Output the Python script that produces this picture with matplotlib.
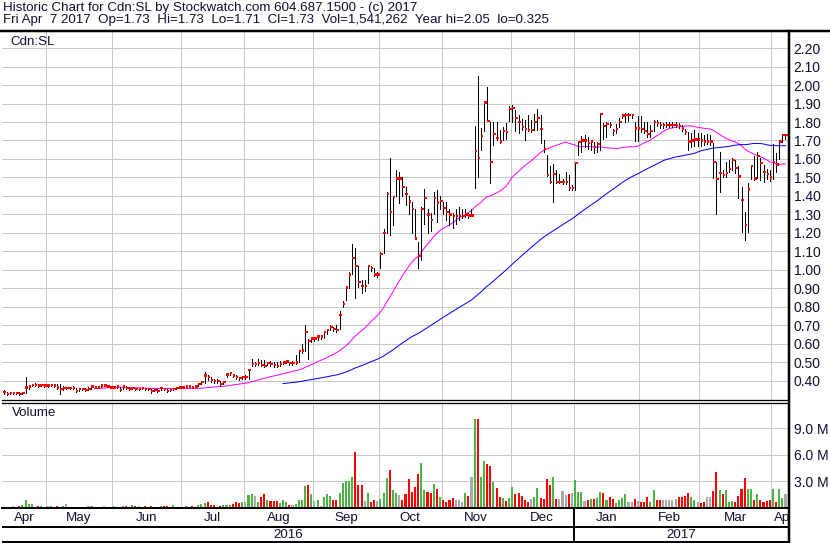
import numpy as np
import pandas as pd
import matplotlib
matplotlib.use('Agg')
import matplotlib.pyplot as plt
from matplotlib.lines import Line2D

plt.rcParams['font.family'] = ['Liberation Sans', 'DejaVu Sans']

# trading days, Apr 12 2016 .. Apr 7 2017 (TSX-V holidays removed)
holidays = ['2016-05-23', '2016-07-01', '2016-08-01', '2016-09-05', '2016-10-10',
            '2016-12-26', '2016-12-27', '2017-01-02', '2017-02-20']
dates = pd.bdate_range('2016-04-12', '2017-04-07', freq='C', holidays=holidays)

high = [
    # Apr 2016
    0.35, 0.34, 0.34, 0.34, 0.34, 0.34, 0.34, 0.42, 0.38, 0.385, 0.39, 0.385, 0.385, 0.385,
    # May
    0.385, 0.385, 0.385, 0.385, 0.385, 0.37, 0.365, 0.365, 0.37, 0.36, 0.36, 0.36, 0.36, 0.365,
    0.38, 0.375, 0.37, 0.38, 0.38, 0.38, 0.37,
    # Jun
    0.37, 0.375, 0.365, 0.375, 0.37, 0.365, 0.365, 0.36, 0.36, 0.365, 0.36, 0.36, 0.355, 0.355,
    0.355, 0.365, 0.36, 0.355, 0.355, 0.36, 0.365, 0.37,
    # Jul
    0.37, 0.375, 0.375, 0.37, 0.375, 0.39, 0.40, 0.45, 0.43, 0.42, 0.41, 0.41, 0.40, 0.40,
    0.44, 0.45, 0.44, 0.43, 0.42, 0.425,
    # Aug
    0.43, 0.465, 0.52, 0.50, 0.52, 0.515, 0.515, 0.50, 0.51, 0.50, 0.505, 0.51, 0.51, 0.51,
    0.505, 0.51, 0.54, 0.565, 0.60, 0.70, 0.625, 0.635,
    # Sep
    0.64, 0.645, 0.65, 0.67, 0.68, 0.70, 0.69, 0.705, 0.78, 0.83, 0.91, 0.99, 1.14, 1.12,
    1.02, 0.945, 0.945, 1.02, 1.02, 1.01, 0.99,
    # Oct
    1.095, 1.22, 1.42, 1.605, 1.40, 1.54, 1.53, 1.50, 1.45, 1.40, 1.37, 1.33, 1.15, 1.34,
    1.44, 1.33, 1.31, 1.42, 1.43, 1.40,
    # Nov
    1.37, 1.37, 1.33, 1.31, 1.33, 1.34, 1.33, 1.33, 1.31, 1.33, 1.78, 2.05, 1.765, 1.905,
    1.99, 1.80, 1.80, 1.80, 1.755, 1.775, 1.795, 1.885,
    # Dec
    1.89, 1.865, 1.84, 1.815, 1.81, 1.84, 1.81, 1.845, 1.87, 1.84, 1.70, 1.62, 1.56, 1.575,
    1.54, 1.52, 1.49, 1.53, 1.515, 1.46,
    # Jan 2017
    1.585, 1.695, 1.725, 1.73, 1.72, 1.705, 1.69, 1.69, 1.845, 1.795, 1.80, 1.80, 1.76, 1.79,
    1.82, 1.845, 1.85, 1.85, 1.845, 1.80, 1.83,
    # Feb
    1.83, 1.80, 1.80, 1.785, 1.81, 1.81, 1.80, 1.795, 1.80, 1.80, 1.80, 1.80, 1.795, 1.785,
    1.76, 1.745, 1.74, 1.755, 1.74,
    # Mar
    1.74, 1.73, 1.735, 1.73, 1.685, 1.585, 1.64, 1.54, 1.585, 1.595, 1.605, 1.595, 1.56, 1.45,
    1.315, 1.47, 1.565, 1.615, 1.64, 1.605, 1.57, 1.545, 1.54,
    # Apr
    1.68, 1.635, 1.70, 1.735, 1.73,
]

low = [
    0.33, 0.325, 0.33, 0.33, 0.33, 0.325, 0.33, 0.335, 0.355, 0.37, 0.37, 0.365, 0.37, 0.365,
    0.365, 0.37, 0.365, 0.355, 0.33, 0.35, 0.355, 0.355, 0.355, 0.34, 0.345, 0.35, 0.345, 0.35,
    0.355, 0.36, 0.36, 0.365, 0.37, 0.365, 0.36,
    0.36, 0.36, 0.345, 0.355, 0.355, 0.35, 0.355, 0.35, 0.35, 0.355, 0.35, 0.35, 0.335, 0.345,
    0.34, 0.35, 0.35, 0.34, 0.345, 0.35, 0.355, 0.36,
    0.36, 0.365, 0.365, 0.36, 0.365, 0.37, 0.385, 0.39, 0.405, 0.395, 0.39, 0.39, 0.375, 0.385,
    0.42, 0.43, 0.42, 0.41, 0.405, 0.41,
    0.41, 0.41, 0.48, 0.48, 0.485, 0.48, 0.475, 0.485, 0.48, 0.475, 0.475, 0.48, 0.49, 0.495,
    0.485, 0.485, 0.49, 0.50, 0.55, 0.56, 0.52, 0.61,
    0.615, 0.62, 0.625, 0.63, 0.655, 0.675, 0.67, 0.665, 0.68, 0.80, 0.84, 0.90, 0.98, 0.85,
    0.91, 0.875, 0.885, 0.93, 0.995, 0.965, 0.96,
    1.01, 1.09, 1.20, 1.19, 1.245, 1.40, 1.36, 1.40, 1.35, 1.30, 1.20, 1.165, 1.01, 1.055,
    1.25, 1.20, 1.21, 1.30, 1.26, 1.33,
    1.30, 1.27, 1.245, 1.225, 1.25, 1.27, 1.28, 1.285, 1.28, 1.29, 1.445, 1.505, 1.65, 1.75,
    1.805, 1.47, 1.675, 1.70, 1.685, 1.70, 1.71, 1.805,
    1.80, 1.75, 1.74, 1.755, 1.70, 1.75, 1.745, 1.755, 1.755, 1.685, 1.64, 1.51, 1.47, 1.365,
    1.47, 1.47, 1.465, 1.465, 1.43, 1.43,
    1.435, 1.62, 1.64, 1.665, 1.655, 1.65, 1.63, 1.64, 1.65, 1.71, 1.72, 1.775, 1.73, 1.74,
    1.775, 1.82, 1.80, 1.805, 1.82, 1.695, 1.695,
    1.745, 1.74, 1.72, 1.72, 1.75, 1.78, 1.77, 1.77, 1.775, 1.775, 1.775, 1.775, 1.77, 1.75,
    1.735, 1.65, 1.665, 1.67, 1.67,
    1.67, 1.675, 1.68, 1.675, 1.495, 1.305, 1.42, 1.505, 1.505, 1.53, 1.54, 1.525, 1.39, 1.205,
    1.16, 1.205, 1.49, 1.485, 1.495, 1.485, 1.475, 1.49, 1.48,
    1.49, 1.53, 1.60, 1.69, 1.71,
]

close = [
    0.34, 0.33, 0.335, 0.335, 0.335, 0.33, 0.335, 0.365, 0.37, 0.38, 0.38, 0.375, 0.38, 0.375,
    0.375, 0.38, 0.375, 0.365, 0.355, 0.36, 0.36, 0.36, 0.36, 0.345, 0.355, 0.355, 0.35, 0.355,
    0.37, 0.365, 0.365, 0.375, 0.375, 0.37, 0.365,
    0.365, 0.37, 0.35, 0.37, 0.36, 0.355, 0.36, 0.355, 0.355, 0.36, 0.355, 0.355, 0.345, 0.35,
    0.345, 0.36, 0.355, 0.345, 0.35, 0.355, 0.36, 0.365,
    0.365, 0.37, 0.37, 0.365, 0.37, 0.385, 0.395, 0.43, 0.42, 0.405, 0.40, 0.40, 0.385, 0.395,
    0.435, 0.445, 0.43, 0.42, 0.415, 0.42,
    0.42, 0.46, 0.49, 0.49, 0.495, 0.485, 0.48, 0.495, 0.49, 0.485, 0.48, 0.49, 0.50, 0.505,
    0.495, 0.495, 0.50, 0.56, 0.565, 0.665, 0.615, 0.63,
    0.63, 0.64, 0.64, 0.665, 0.675, 0.69, 0.68, 0.675, 0.755, 0.815, 0.905, 0.975, 1.065, 1.02,
    0.935, 0.915, 0.915, 1.02, 1.01, 0.975, 0.975,
    1.085, 1.20, 1.41, 1.315, 1.395, 1.495, 1.495, 1.45, 1.41, 1.37, 1.33, 1.17, 1.075, 1.33,
    1.39, 1.30, 1.27, 1.39, 1.365, 1.375,
    1.335, 1.315, 1.30, 1.29, 1.29, 1.29, 1.29, 1.30, 1.295, 1.295, 1.645, 1.605, 1.725, 1.905,
    1.805, 1.585, 1.735, 1.715, 1.695, 1.75, 1.745, 1.87,
    1.875, 1.82, 1.80, 1.775, 1.76, 1.755, 1.755, 1.80, 1.82, 1.76, 1.655, 1.515, 1.475, 1.52,
    1.475, 1.475, 1.475, 1.475, 1.445, 1.445,
    1.58, 1.69, 1.70, 1.70, 1.685, 1.695, 1.665, 1.68, 1.845, 1.78, 1.79, 1.785, 1.75, 1.76,
    1.80, 1.835, 1.84, 1.84, 1.84, 1.765, 1.765,
    1.76, 1.75, 1.735, 1.75, 1.80, 1.795, 1.785, 1.785, 1.785, 1.785, 1.785, 1.785, 1.78, 1.765,
    1.745, 1.695, 1.70, 1.705, 1.705,
    1.70, 1.695, 1.695, 1.695, 1.585, 1.49, 1.525, 1.515, 1.525, 1.545, 1.595, 1.55, 1.505, 1.38,
    1.245, 1.435, 1.56, 1.495, 1.615, 1.58, 1.53, 1.52, 1.50,
    1.585, 1.57, 1.695, 1.73, 1.73,
]

# volume in millions of shares
volume = [
    0.1, 0.1, 0.1, 0.15, 0.1, 0.2, 0.3, 0.8, 0.45, 0.4, 0.1, 0.15, 0.15, 0.1,
    0.15, 0.15, 0.1, 0.15, 0.1, 0.15, 0.4, 0.1, 0.1, 0.05, 0.1, 0.1, 0.1, 0.15,
    0.15, 0.1, 0.1, 0.1, 0.2, 0.1, 0.1,
    0.15, 0.1, 0.1, 0.2, 0.15, 0.1, 0.25, 0.2, 0.15, 0.1, 0.2, 0.1, 0.15, 0.1,
    0.1, 0.15, 0.15, 0.2, 0.1, 0.25, 0.1, 0.1,
    0.1, 0.15, 0.1, 0.15, 0.1, 0.3, 0.35, 0.55, 0.66, 0.3, 0.25, 0.1, 0.2, 0.25,
    0.3, 0.3, 0.35, 0.6, 0.5, 0.6,
    0.6, 1.4, 1.5, 1.3, 0.6, 1.2, 1.5, 0.8, 0.75, 0.75, 0.7, 0.55, 0.8, 0.65,
    0.3, 0.3, 0.35, 0.9, 0.85, 2.4, 2.6, 1.5,
    0.75, 0.85, 0.2, 1.2, 1.5, 1.35, 0.85, 0.85, 1.6, 2.8, 3.0, 3.0, 3.5, 6.3,
    2.6, 2.5, 0.7, 1.7, 0.6, 0.8, 0.7,
    1.0, 1.6, 3.4, 4.2, 2.0, 1.7, 1.4, 0.85, 1.5, 3.2, 1.8, 2.3, 3.8, 5.1,
    2.0, 1.75, 1.7, 2.7, 2.05, 1.2,
    0.8, 0.65, 0.9, 1.1, 0.8, 0.8, 0.6, 1.6, 1.3, 3.5, 10.0, 10.0, 3.45, 5.25,
    4.9, 4.7, 2.9, 2.25, 1.2, 1.1, 0.7, 1.1,
    2.3, 1.5, 1.7, 1.3, 0.9, 0.6, 0.95, 1.2, 2.2, 1.1, 0.95, 3.2, 2.6, 3.5,
    0.95, 0.95, 1.9, 1.4, 1.5, 1.6,
    3.1, 1.8, 1.8, 0.7, 0.8, 0.95, 0.95, 1.1, 1.8, 1.6, 0.8, 1.2, 1.0, 0.5,
    0.9, 1.1, 1.5, 0.6, 0.6, 0.95, 0.7,
    0.6, 0.6, 1.2, 0.6, 1.95, 0.9, 0.8, 0.9, 0.8, 0.8, 0.8, 1.0, 1.2, 1.2,
    1.3, 1.6, 1.2, 0.9, 0.6,
    0.5, 0.6, 1.2, 1.2, 1.9, 4.0, 2.0, 1.5, 2.0, 0.6, 0.7, 0.6, 1.3, 2.1,
    3.3, 2.1, 2.1, 0.8, 1.5, 0.8, 0.6, 0.7, 0.9,
    2.1, 0.6, 2.15, 1.1, 1.54,
]

month_labels = ['Apr', 'May', 'Jun', 'Jul', 'Aug', 'Sep', 'Oct', 'Nov', 'Dec',
                'Jan', 'Feb', 'Mar', 'Apr']
year_labels = ['2016', '2017']
price_ticks = np.round(np.arange(0.40, 2.201, 0.10), 2)
volume_ticks = [3, 6, 9]

title1 = 'Historic Chart for Cdn:SL by Stockwatch.com 604.687.1500 - (c) 2017'
title2 = ('Fri Apr  7 2017  Op=1.73  Hi=1.73  Lo=1.71  Cl=1.73  '
          'Vol=1,541,262  Year hi=2.05  lo=0.325')

df = pd.DataFrame({'high': high, 'low': low, 'close': close, 'volume': volume},
                  index=dates)
df['ma30'] = df['close'].rolling(30).mean()
df['ma90'] = df['close'].rolling(90).mean()
n = len(df)
x = np.arange(n)

chg = df['close'].diff().fillna(0).values
vol_colors = np.where(chg > 1e-9, '#4cb447', np.where(chg < -1e-9, '#ff0000', '#aaaaaa'))

# first trading day of every month
starts = [0] + [i for i in range(1, n) if dates[i].month != dates[i - 1].month]
bounds = [s - 0.5 for s in starts[1:]]
year_start = [i for i in starts if dates[i].year == 2017][0]

W, H = 830, 543
fig = plt.figure(figsize=(W / 100, H / 100), dpi=100)
px = 72 / 100  # points per pixel


def box(l, t, r, b):
    return [l / W, 1 - b / H, (r - l) / W, (b - t) / H]


ink = '#101030'
grid = '#c8c8c8'
xlim = (-0.5, n - 0.2)
ylim = (0.297, 2.292)
fs = 9.6

# ---- price panel
ax = fig.add_axes(box(2, 31, 788, 400))
ax.set_xlim(xlim)
ax.set_ylim(ylim)
tick_h = 2.2 * (ylim[1] - ylim[0]) / 369  # about two pixels tall
for y in price_ticks:
    ax.axhline(y, color=grid, lw=px, zorder=0)
for b in bounds:
    ax.axvline(b, color=grid, lw=px, zorder=0)
ax.vlines(x, df['low'], df['high'], color='black', lw=px, antialiased=False, zorder=3)
ax.bar(x + 0.38, tick_h, bottom=df['close'] - tick_h / 2, width=0.82, color='red',
       linewidth=0, antialiased=False, zorder=4)
ax.plot(x, df['ma30'], color='#ff00ff', lw=px, zorder=2)
ax.plot(x, df['ma90'], color='#0000ff', lw=px, zorder=2)
ax.set_yticks(price_ticks)
ax.set_yticklabels(['%.2f' % t for t in price_ticks])
ax.yaxis.tick_right()
ax.tick_params(axis='y', length=0, pad=4, labelsize=10, labelcolor=ink)
ax.tick_params(axis='x', length=0, labelbottom=False)
for s in ['left', 'right', 'top']:
    ax.spines[s].set_visible(False)
ax.spines['bottom'].set_linewidth(1.3 * px)
ax.text(8 / 786, 1 - 11 / 369, 'Cdn:SL', transform=ax.transAxes, fontsize=fs,
        color=ink, va='center', ha='left')

# ---- volume panel
axv = fig.add_axes(box(2, 402.5, 788, 507.5))
axv.set_xlim(xlim)
axv.set_ylim(0, 11.9)
for y in volume_ticks:
    axv.axhline(y, color=grid, lw=px, zorder=0)
for b in bounds:
    axv.axvline(b, color=grid, lw=px, zorder=0)
axv.bar(x, df['volume'], width=0.66, color=vol_colors, linewidth=0, antialiased=False, zorder=2)
axv.set_yticks(volume_ticks)
axv.set_yticklabels(['%.1f M' % v for v in volume_ticks])
axv.yaxis.tick_right()
axv.tick_params(axis='y', length=0, pad=4, labelsize=10, labelcolor=ink)
axv.tick_params(axis='x', length=0, labelbottom=False)
for s in ['left', 'right']:
    axv.spines[s].set_visible(False)
axv.spines['top'].set_linewidth(1.3 * px)
axv.spines['bottom'].set_linewidth(2 * px)
axv.text(10 / 786, 1 - 10.5 / 105, 'Volume', transform=axv.transAxes, fontsize=fs,
         color=ink, va='center', ha='left')

# ---- month / year strip
axd = fig.add_axes(box(2, 508, 788, 543))
axd.set_xlim(xlim)
axd.set_ylim(0, 1)
axd.axis('off')
edges = [xlim[0]] + bounds + [xlim[1] + 3]
for lab, a, b in zip(month_labels, edges[:-1], edges[1:]):
    axd.text((a + b) / 2, 0.714, lab, ha='center', va='center', fontsize=fs,
             color=ink, clip_on=True)
yb = year_start - 0.5
for lab, a, b in zip(year_labels, [xlim[0], yb], [yb, xlim[1]]):
    axd.text((a + b) / 2, 0.229, lab, ha='center', va='center', fontsize=fs, color=ink)
axd.axhline(0.457, color='black', lw=2 * px)
axd.axhline(0.03, color='black', lw=2 * px)
axd.axvline(yb, color='black', lw=2 * px)

# ---- header and frame lines
fig.text(3 / W, 1 - 7.5 / H, title1, fontsize=fs, color=ink, va='center', ha='left')
fig.text(3 / W, 1 - 20.5 / H, title2, fontsize=fs, color=ink, va='center', ha='left')
fig.add_artist(Line2D([0, 1], [1 - 30.5 / H, 1 - 30.5 / H], transform=fig.transFigure,
                      color='black', lw=2.5 * px))
fig.add_artist(Line2D([789 / W, 789 / W], [0, 1 - 30.5 / H], transform=fig.transFigure,
                      color='black', lw=2.5 * px))

fig.savefig('out.png', dpi=100)
